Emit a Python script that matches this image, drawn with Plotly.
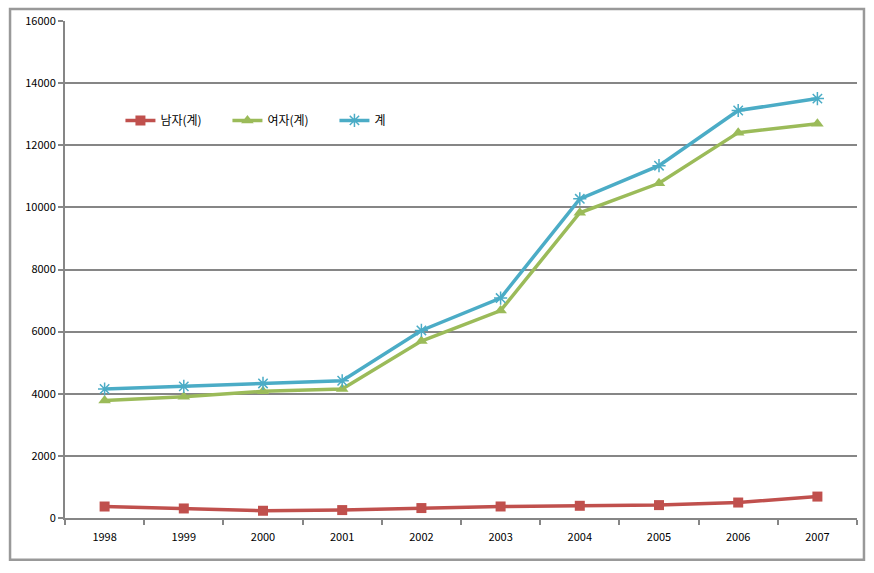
import plotly.graph_objects as go

years = ["1998", "1999", "2000", "2001", "2002", "2003", "2004", "2005", "2006", "2007"]
male = [370, 307, 233, 255, 320, 371, 393, 415, 498, 690]
female = [3780, 3907, 4077, 4153, 5696, 6677, 9827, 10776, 12406, 12693]
total = [4153, 4237, 4332, 4418, 6038, 7080, 10275, 11342, 13118, 13502]
series_names = ["남자(계)", "여자(계)", "계"]

fig = go.Figure()
fig.add_trace(go.Scatter(x=years, y=male, name=series_names[0], mode="lines+markers",
                         line=dict(color="#C0504D", width=3.5),
                         marker=dict(symbol="square", size=10, color="#C0504D")))
fig.add_trace(go.Scatter(x=years, y=female, name=series_names[1], mode="lines+markers",
                         line=dict(color="#9BBB59", width=3.5),
                         marker=dict(symbol="triangle-up", size=11, color="#9BBB59")))
fig.add_trace(go.Scatter(x=years, y=total, name=series_names[2], mode="lines+markers",
                         line=dict(color="#4BACC6", width=3.5),
                         marker=dict(symbol="asterisk-open", size=11, color="#4BACC6",
                                     line=dict(color="#4BACC6", width=1.5))))

fig.update_layout(
    width=874, height=573,
    margin=dict(l=65, r=17, t=17, b=55),
    paper_bgcolor="white", plot_bgcolor="white",
    font=dict(family="Noto Sans CJK KR, Noto Sans, sans-serif", size=11, color="#000000"),
    showlegend=True,
    legend=dict(orientation="h", x=0.07, y=0.80, xanchor="left", yanchor="middle",
                bgcolor="rgba(0,0,0,0)", font=dict(size=12), itemwidth=30,
                traceorder="normal", entrywidthmode="pixels", entrywidth=62),
    xaxis=dict(type="category", range=[-0.5, 9.5], showgrid=False,
               showline=True, linecolor="#868686", linewidth=2,
               ticks="outside", tickson="boundaries", ticklen=5, tickcolor="#868686", tickwidth=1.5,
               ticklabelstandoff=8,
               tickfont=dict(size=11), fixedrange=True),
    yaxis=dict(range=[0, 16000], dtick=2000, tickformat="d", showgrid=True,
               gridcolor="#868686", gridwidth=2,
               showline=True, linecolor="#868686", linewidth=2, zeroline=False,
               ticks="outside", ticklen=5, tickcolor="#868686", tickwidth=1.5,
               tickfont=dict(size=11), fixedrange=True),
    shapes=[dict(type="rect", xref="paper", yref="paper",
                 x0=-0.0694, x1=1.0088, y0=-0.0838, y1=1.024,
                 line=dict(color="#999999", width=2.5), fillcolor="rgba(0,0,0,0)", layer="below")],
)

fig.write_html("out.html", config={"displayModeBar": False},
               post_script="document.body.style.margin='0px';")
